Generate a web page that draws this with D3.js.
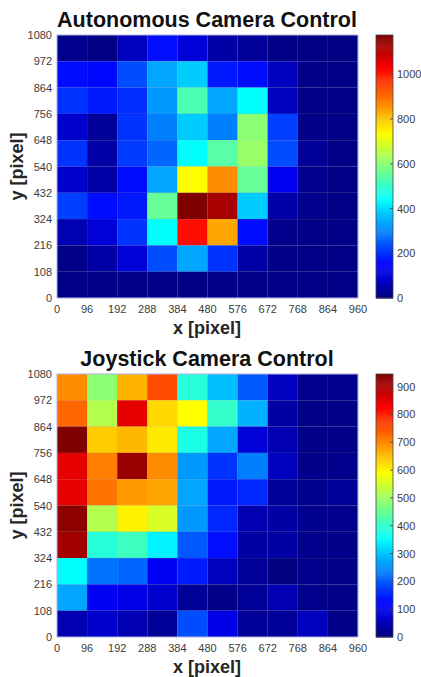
<!DOCTYPE html>
<html>
<head>
<meta charset="utf-8">
<script src="https://cdn.jsdelivr.net/npm/d3@7"></script>
<style>
  body { margin: 0; background: #fff; }
  svg { display: block; font-family: Arial, "Liberation Sans", sans-serif; }
</style>
</head>
<body>
<script>
'use strict';

// bin edges
var xEdges = [0, 96, 192, 288, 384, 480, 576, 672, 768, 864, 960];
var yEdges = [0, 108, 216, 324, 432, 540, 648, 756, 864, 972, 1080];

// rows listed top (972-1080) to bottom (0-108), columns left to right
var autonomousCounts = [
  [15, 5, 73, 162, 103, 44, 29, 8, 5, 5],
  [160, 155, 235, 338, 382, 176, 160, 73, 10, 8],
  [206, 176, 200, 323, 529, 338, 441, 73, 10, 8],
  [88, 29, 206, 294, 382, 294, 603, 220, 10, 8],
  [206, 44, 215, 265, 441, 544, 617, 235, 29, 8],
  [88, 44, 160, 338, 735, 867, 559, 132, 15, 8],
  [220, 160, 176, 559, 1176, 1132, 382, 44, 15, 8],
  [59, 103, 206, 441, 1014, 838, 160, 15, 8, 8],
  [10, 44, 103, 235, 338, 206, 44, 10, 8, 8],
  [8, 12, 10, 8, 5, 10, 12, 10, 8, 8]
];
var joystickCounts = [
  [697, 484, 661, 756, 390, 295, 201, 59, 12, 12],
  [732, 520, 850, 626, 591, 402, 283, 35, 8, 10],
  [945, 638, 657, 610, 378, 272, 83, 47, 8, 10],
  [850, 709, 921, 697, 260, 165, 236, 59, 10, 12],
  [850, 720, 685, 673, 272, 142, 154, 24, 15, 24],
  [933, 520, 602, 555, 260, 154, 47, 35, 15, 12],
  [910, 390, 413, 343, 201, 130, 35, 35, 12, 10],
  [354, 224, 213, 106, 142, 59, 24, 0, 12, 10],
  [272, 106, 95, 71, 24, 8, 24, 47, 12, 10],
  [47, 71, 47, 24, 189, 95, 24, 24, 59, 8]
];
var autonomousTicks = [0, 200, 400, 600, 800, 1000];
var joystickTicks = [0, 100, 200, 300, 400, 500, 600, 700, 800, 900];

var W = 421, H = 677;

// MATLAB-style jet
var jet = function (t) {
  var c = function (v) { return Math.round(255 * Math.max(0, Math.min(1, v))); };
  return 'rgb(' + c(1.5 - Math.abs(4 * t - 3)) + ',' + c(1.5 - Math.abs(4 * t - 2)) + ',' + c(1.5 - Math.abs(4 * t - 1)) + ')';
};

var svg = d3.select('body').append('svg')
  .attr('width', W)
  .attr('height', H);

var drawPanel = function (opts) {
  var left = 57, right = 358, top = opts.top, bottom = opts.top + 263;
  var counts = opts.counts;
  var maxVal = d3.max(counts, function (r) { return d3.max(r); });

  var x = d3.scaleLinear().domain([0, 960]).range([left, right]);
  var y = d3.scaleLinear().domain([0, 1080]).range([bottom, top]);
  var color = d3.scaleSequential(jet).domain([0, maxVal]);

  var g = svg.append('g');

  var cells = [];
  counts.forEach(function (row, ri) {
    var yi = yEdges.length - 2 - ri;
    row.forEach(function (v, ci) {
      cells.push({ x0: xEdges[ci], x1: xEdges[ci + 1], y0: yEdges[yi], y1: yEdges[yi + 1], v: v });
    });
  });

  g.selectAll('rect.cell')
    .data(cells)
    .enter()
    .append('rect')
    .attr('class', 'cell')
    .attr('x', function (d) { return x(d.x0); })
    .attr('y', function (d) { return y(d.y1); })
    .attr('width', function (d) { return x(d.x1) - x(d.x0); })
    .attr('height', function (d) { return y(d.y0) - y(d.y1); })
    .attr('fill', function (d) { return color(d.v); })
    .attr('stroke', 'rgba(0,0,0,0.07)')
    .attr('stroke-width', 0.7);

  g.append('rect')
    .attr('x', left).attr('y', top)
    .attr('width', right - left).attr('height', bottom - top)
    .attr('fill', 'none')
    .attr('stroke', '#b4b8e6')
    .attr('stroke-width', 1);

  // x tick labels
  g.selectAll('text.xt')
    .data(xEdges)
    .enter()
    .append('text')
    .attr('x', function (d) { return x(d); })
    .attr('y', bottom + 15)
    .attr('text-anchor', 'middle')
    .attr('font-size', 11)
    .attr('fill', '#3c3c3c')
    .text(function (d) { return d; });

  // y tick labels
  g.selectAll('text.yt')
    .data(yEdges)
    .enter()
    .append('text')
    .attr('x', left - 5)
    .attr('y', function (d) { return y(d) + 4; })
    .attr('text-anchor', 'end')
    .attr('font-size', 11)
    .attr('fill', '#3c3c3c')
    .text(function (d) { return d; });

  g.append('text')
    .attr('x', 207)
    .attr('y', top - 8)
    .attr('text-anchor', 'middle')
    .attr('font-size', 21.5)
    .attr('font-weight', 'bold')
    .attr('fill', '#111')
    .text(opts.title);

  g.append('text')
    .attr('x', 207)
    .attr('y', bottom + 36)
    .attr('text-anchor', 'middle')
    .attr('font-size', 18)
    .attr('font-weight', 'bold')
    .attr('fill', '#262626')
    .text('x [pixel]');

  g.append('text')
    .attr('transform', 'translate(' + 23 + ',' + ((top + bottom) / 2) + ') rotate(-90)')
    .attr('text-anchor', 'middle')
    .attr('font-size', 18)
    .attr('font-weight', 'bold')
    .attr('fill', '#262626')
    .text('y [pixel]');

  // colorbar
  var cbX = 376, cbW = 17;
  var cbScale = d3.scaleLinear().domain([0, maxVal]).range([bottom, top]);
  var steps = d3.range(0, 256);
  g.selectAll('rect.cb')
    .data(steps)
    .enter()
    .append('rect')
    .attr('x', cbX)
    .attr('y', function (s) { return cbScale((s + 1) / 256 * maxVal); })
    .attr('width', cbW)
    .attr('height', function (s) { return cbScale(s / 256 * maxVal) - cbScale((s + 1) / 256 * maxVal) + 0.5; })
    .attr('fill', function (s) { return color((s + 0.5) / 256 * maxVal); });

  g.append('rect')
    .attr('x', cbX).attr('y', top)
    .attr('width', cbW).attr('height', bottom - top)
    .attr('fill', 'none')
    .attr('stroke', '#444')
    .attr('stroke-width', 0.8);

  var cbTicks = g.selectAll('g.cbt')
    .data(opts.ticks)
    .enter()
    .append('g')
    .attr('transform', function (d) { return 'translate(0,' + cbScale(d) + ')'; });

  cbTicks.append('line')
    .attr('x1', cbX + cbW - 3).attr('x2', cbX + cbW)
    .attr('stroke', '#444')
    .attr('stroke-width', 0.8);

  cbTicks.append('text')
    .attr('x', cbX + cbW + 4)
    .attr('y', 4)
    .attr('font-size', 11)
    .attr('fill', '#3c3c3c')
    .text(function (d) { return d; });
};

drawPanel({ top: 35, counts: autonomousCounts, ticks: autonomousTicks, title: 'Autonomous Camera Control' });
drawPanel({ top: 374, counts: joystickCounts, ticks: joystickTicks, title: 'Joystick Camera Control' });
</script>
</body>
</html>
